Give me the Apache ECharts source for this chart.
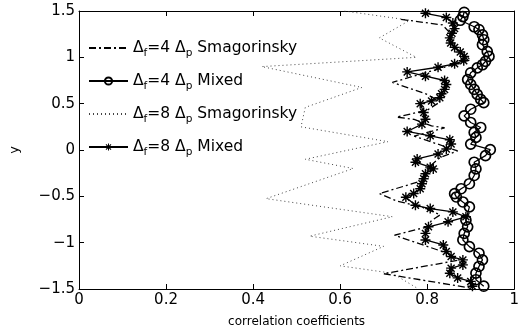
<!DOCTYPE html>
<html>
<head>
<meta charset="utf-8">
<script src="https://cdn.jsdelivr.net/npm/echarts@6/dist/echarts.min.js"></script>
<style>
html,body{margin:0;padding:0;background:#fff;}
#c{width:522px;height:333px;}
</style>
</head>
<body>
<div id="c"></div>
<script>
// ---- data ----
var xTicks = [0, 0.2, 0.4, 0.6, 0.8, 1];
var yTicks = [-1.5, -1, -0.5, 0, 0.5, 1, 1.5];

var seriesNames = ['Δf=4 Δp Smagorinsky', 'Δf=4 Δp Mixed', 'Δf=8 Δp Smagorinsky', 'Δf=8 Δp Mixed'];

// Δf=4 Δp Smagorinsky (dash-dot)
var smag4X = [0.74,0.835,0.855,0.86,0.875,0.90,0.72,0.80,0.83,0.80,0.73,0.77,0.81,0.84,0.77,0.87,0.83,0.80,0.79,0.69,0.73,0.79,0.83,0.81,0.80,0.725,0.85,0.87,0.70,0.90];
var smag4Y = [1.41,1.35,1.25,1.12,1.06,0.975,0.73,0.60,0.52,0.43,0.355,0.33,0.26,0.24,0.15,-0.01,-0.08,-0.20,-0.33,-0.47,-0.55,-0.62,-0.70,-0.76,-0.83,-0.92,-1.12,-1.19,-1.335,-1.49];

// Δf=4 Δp Mixed (circles)
var mix4X = [0.885,0.882,0.876,0.908,0.919,0.927,0.930,0.927,0.938,0.942,0.934,0.927,0.915,0.900,0.893,0.900,0.908,0.915,0.923,0.930,0.900,0.885,0.900,0.923,0.908,0.912,0.900,0.945,0.934,0.908,0.912,0.908,0.897,0.878,0.863,0.867,0.882,0.897,0.889,0.893,0.885,0.882,0.897,0.919,0.927,0.919,0.912,0.912,0.930];
var mix4Y = [1.486,1.44,1.40,1.33,1.30,1.243,1.19,1.136,1.064,1.01,0.957,0.92,0.886,0.833,0.76,0.707,0.654,0.60,0.546,0.511,0.44,0.368,0.297,0.243,0.19,0.136,0.064,0.003,-0.061,-0.132,-0.204,-0.275,-0.364,-0.418,-0.471,-0.507,-0.561,-0.614,-0.757,-0.829,-0.90,-0.971,-1.043,-1.114,-1.186,-1.257,-1.329,-1.40,-1.47];

// Δf=8 Δp Smagorinsky (dotted)
var smag8X = [0.61,0.76,0.69,0.775,0.42,0.65,0.52,0.51,0.71,0.52,0.63,0.43,0.72,0.53,0.70,0.60,0.72,0.78];
var smag8Y = [1.5,1.40,1.21,1.0,0.90,0.675,0.46,0.25,0.09,-0.10,-0.20,-0.525,-0.72,-0.93,-1.04,-1.25,-1.33,-1.5];

// Δf=8 Δp Mixed (asterisks)
var mix8X = [0.796,0.844,0.859,0.863,0.857,0.852,0.854,0.863,0.876,0.885,0.884,0.863,0.825,0.754,0.796,0.84,0.844,0.84,0.833,0.829,0.81,0.784,0.792,0.796,0.788,0.754,0.807,0.852,0.855,0.844,0.825,0.777,0.773,0.807,0.814,0.796,0.792,0.788,0.784,0.769,0.751,0.773,0.807,0.859,0.889,0.848,0.803,0.796,0.796,0.837,0.844,0.855,0.882,0.882,0.855,0.852,0.870,0.90,0.904];
var mix8Y = [1.475,1.43,1.37,1.31,1.26,1.21,1.155,1.107,1.058,1.01,0.964,0.93,0.893,0.843,0.796,0.75,0.707,0.654,0.607,0.565,0.53,0.50,0.404,0.332,0.279,0.20,0.153,0.11,0.064,0.011,-0.043,-0.096,-0.132,-0.185,-0.204,-0.257,-0.311,-0.364,-0.418,-0.47,-0.51,-0.597,-0.632,-0.668,-0.721,-0.775,-0.829,-0.90,-0.971,-1.025,-1.096,-1.15,-1.186,-1.24,-1.275,-1.33,-1.38,-1.418,-1.47];

function pairs(xs, ys){ return xs.map(function(v,i){ return [v, ys[i]]; }); }

var FONT = 'DejaVu Sans';
var asterisk = 'path://M-1.4,-10 L1.4,-10 L1.4,10 L-1.4,10 Z M-10,-1.4 L10,-1.4 L10,1.4 L-10,1.4 Z M-6,-8 L8,6 L6,8 L-8,-6 Z M8,-6 L-6,8 L-8,6 L6,-8 Z';

function fmt(v){ return String(v).replace('-', '\u2212'); }

var chart = echarts.init(document.getElementById('c'), null, {renderer:'canvas'});
var axisCommon = {
  type:'value',
  axisLine:{show:true, onZero:false, lineStyle:{color:'#000', width:1}},
  axisTick:{show:true, inside:true, length:5, lineStyle:{color:'#000'}},
  splitLine:{show:false}
};
chart.setOption({
  animation:false,
  backgroundColor:'#fff',
  textStyle:{fontFamily:FONT},
  grid:{left:71, right:6, top:11, bottom:42, containLabel:false},
  legend:{
    orient:'vertical', left:83, top:35, itemGap:14, itemWidth:39, itemHeight:9,
    data:[
      {name:seriesNames[0], itemStyle:{opacity:0}},
      {name:seriesNames[1]},
      {name:seriesNames[2], itemStyle:{opacity:0}},
      {name:seriesNames[3]}
    ],
    formatter:function(name){
      var m = name.match(/Δf=(\d) Δp (\w+)/);
      return '{a|Δ}{s|f}{a|=' + m[1] + ' Δ}{s|p}{a| ' + m[2] + '}';
    },
    textStyle:{
      fontFamily:FONT, fontSize:15, color:'#000',
      rich:{
        a:{fontFamily:FONT, fontSize:15.5, color:'#000', lineHeight:22, verticalAlign:'middle'},
        s:{fontFamily:FONT, fontSize:10.5, color:'#000', lineHeight:22, verticalAlign:'bottom'}
      }
    }
  },
  xAxis:[
    Object.assign({}, axisCommon, {
      position:'bottom', min:0, max:1, interval:0.2,
      axisLabel:{color:'#000', fontSize:15, fontFamily:FONT, margin:4, formatter:function(v){return fmt(v);}},
      name:'correlation coefficients', nameLocation:'middle', nameGap:27,
      nameTextStyle:{color:'#000', fontSize:12, fontFamily:FONT}
    }),
    Object.assign({}, axisCommon, {position:'top', min:0, max:1, interval:0.2, axisLabel:{show:false}})
  ],
  yAxis:[
    Object.assign({}, axisCommon, {
      position:'left', min:-1.5, max:1.5, interval:0.5,
      axisLabel:{color:'#000', fontSize:15, fontFamily:FONT, margin:4, formatter:function(v){return fmt(v);}},
      name:'y', nameLocation:'middle', nameGap:58, nameRotate:90,
      nameTextStyle:{color:'#000', fontSize:13, fontFamily:FONT}
    }),
    Object.assign({}, axisCommon, {position:'right', min:-1.5, max:1.5, interval:0.5, axisLabel:{show:false}})
  ],
  series:[
    {
      name:seriesNames[0], type:'line', data:pairs(smag4X, smag4Y),
      showSymbol:false, symbol:'none', z:2,
      lineStyle:{color:'#000', width:1.3, type:[7,3,2,3]},
      itemStyle:{color:'#000'}
    },
    {
      name:seriesNames[1], type:'line', data:pairs(mix4X, mix4Y),
      symbol:'circle', symbolSize:10, showAllSymbol:true, z:3,
      lineStyle:{color:'#000', width:1.3},
      itemStyle:{color:'rgba(255,255,255,0)', borderColor:'#000', borderWidth:1.7}
    },
    {
      name:seriesNames[2], type:'line', data:pairs(smag8X, smag8Y),
      showSymbol:false, symbol:'none', z:1,
      lineStyle:{color:'#444', width:1, type:[1,3]},
      itemStyle:{color:'#444'}
    },
    {
      name:seriesNames[3], type:'line', data:pairs(mix8X, mix8Y),
      symbol:asterisk, symbolSize:10, showAllSymbol:true, z:3,
      lineStyle:{color:'#000', width:1.3},
      itemStyle:{color:'#000'}
    }
  ]
});
</script>
</body>
</html>
